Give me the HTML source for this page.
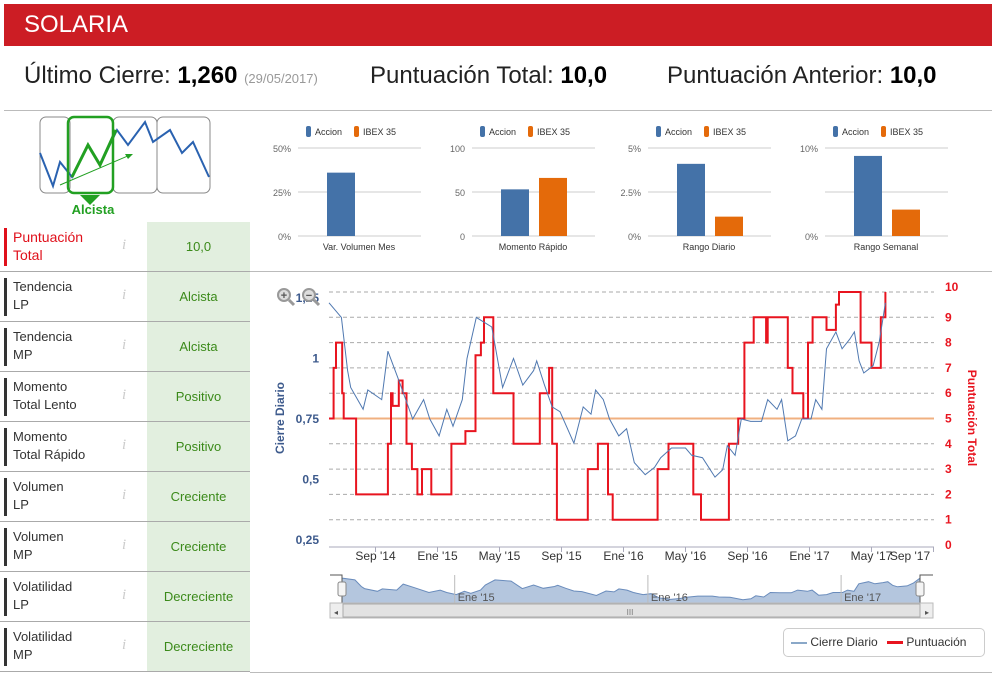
<!DOCTYPE html>
<html><head><meta charset="utf-8"><style>
body{margin:0;width:997px;height:676px;background:#fff;font-family:"Liberation Sans",sans-serif;position:relative;overflow:hidden}
.abs{position:absolute}
#hdr{left:4px;top:4px;width:988px;height:42px;background:#cc1d24;color:#fff;font-size:24px;line-height:42px;padding-left:20px;box-sizing:border-box}
.stat{top:62px;font-size:24px;color:#222}
.stat b{font-weight:bold;color:#000}
.row{left:0;width:250px;height:50px;border-bottom:1px solid #aaa;box-sizing:border-box}
.lab{position:absolute;left:4px;top:6px;height:38px;border-left:3px solid #333;padding-left:6px;font-size:13px;line-height:18px;color:#333;width:100px}
.info{position:absolute;left:122px;top:15px;color:#ccc;font-style:italic;font-family:"Liberation Serif",serif;font-size:15px}
.val{position:absolute;left:147px;top:0;width:103px;height:49px;background:#e2efdf;color:#3b8a1a;font-size:13px;text-align:center;line-height:49px}
</style></head><body>
<div id="hdr" class="abs">SOLARIA</div>
<div class="abs stat" style="left:24px">Último Cierre: <b>1,260</b> <span style="font-size:13px;color:#999">(29/05/2017)</span></div>
<div class="abs stat" style="left:370px">Puntuación Total: <b>10,0</b></div>
<div class="abs stat" style="left:667px">Puntuación Anterior: <b>10,0</b></div>
<div class="abs" style="left:4px;top:110px;width:988px;height:1px;background:#bbb"></div>
<div class="abs" style="left:250px;top:271px;width:742px;height:1px;background:#bbb"></div>
<div class="abs" style="left:250px;top:672px;width:742px;height:1px;background:#bbb"></div>

<svg class="abs" style="left:0;top:110px" width="250" height="112">
<rect x="40" y="7" width="30" height="76" rx="6" fill="none" stroke="#888"/>
<rect x="113" y="7" width="44" height="76" rx="6" fill="none" stroke="#888"/>
<rect x="157" y="7" width="53" height="76" rx="6" fill="none" stroke="#888"/>
<polyline points="40,43 53,76 60,52 72,67 88,35 100,55 117,20 128,35 145,12 153,32 170,20 182,43 193,32 209,67" fill="none" stroke="#2a62b0" stroke-width="2"/>
<rect x="68" y="7" width="45" height="76" rx="6" fill="none" stroke="#22a022" stroke-width="2.5"/>
<polyline points="72,67 88,35 100,55 116,20" fill="none" stroke="#22a022" stroke-width="3"/>
<line x1="60" y1="75" x2="130" y2="45" stroke="#22a022" stroke-width="1"/><polygon points="133,44 125,44 128,49" fill="#22a022"/>
<polygon points="80,85 100,85 90,95" fill="#22a022"/>
<text x="93" y="104" text-anchor="middle" font-size="13" font-weight="bold" fill="#22a022">Alcista</text>
</svg>

<div id="tbl"></div>
<svg id="bars" class="abs" style="left:250px;top:115px" width="742" height="145"></svg>
<svg id="main" class="abs" style="left:0;top:0" width="997" height="676"></svg>

<div class="abs" style="left:783px;top:628px;width:200px;height:27px;border:1px solid #ccc;border-radius:5px;font-size:12px;color:#333;line-height:27px">
<span style="margin-left:7px"><span style="display:inline-block;width:16px;height:2px;background:#8aa8c8;vertical-align:middle"></span> Cierre Diario</span>
<span style="margin-left:6px"><span style="display:inline-block;width:16px;height:3px;background:#e8141f;vertical-align:middle"></span> Puntuación</span>
</div>

<script>
var rowLabels=["Puntuación<br>Total","Tendencia<br>LP","Tendencia<br>MP","Momento<br>Total Lento","Momento<br>Total Rápido","Volumen<br>LP","Volumen<br>MP","Volatilidad<br>LP","Volatilidad<br>MP"];
var rowValues=["10,0","Alcista","Alcista","Positivo","Positivo","Creciente","Creciente","Decreciente","Decreciente"];
var barCats=["Var. Volumen Mes","Momento Rápido","Rango Diario","Rango Semanal"];
var barAccion=[36,53,4.1,9.1];
var barIbex=[null,66,1.1,3.0];
var barMax=[50,100,5,10];
var barTicks=[["0%","25%","50%"],["0","50","100"],["0%","2.5%","5%"],["0%","","10%"]];
var monthLabels=["Sep '14","Ene '15","May '15","Sep '15","Ene '16","May '16","Sep '16","Ene '17","May '17","Sep '17"];
var monthTicks=[3,7,11,15,19,23,27,31,35,39];
var priceT=[0,0.8,1.2,1.4,2.2,2.5,3.4,3.8,4.5,5.4,6.1,6.5,7.1,7.6,8.0,8.6,8.9,9.5,10.0,10.5,11.2,11.9,12.5,13.2,13.4,13.9,14.4,14.9,15.8,16.4,16.9,17.2,17.7,18.1,18.7,19.2,19.7,20.4,21.0,21.4,22.1,23.0,23.4,24.1,24.9,25.4,25.7,26.2,26.6,27.2,27.9,28.3,28.9,29.2,29.6,30.1,30.5,31.1,31.4,31.8,32.1,32.7,33.1,33.6,33.9,34.2,34.5,35.1,35.5,35.9];
var priceV=[1.23,1.17,0.95,0.88,0.79,0.87,0.83,1.03,0.91,0.75,0.83,0.75,0.68,0.79,0.72,0.83,1.0,1.17,1.15,1.13,0.88,1.0,0.89,0.95,0.99,0.89,0.8,0.78,0.65,0.8,0.77,0.87,0.83,0.75,0.68,0.71,0.57,0.52,0.55,0.59,0.63,0.63,0.6,0.59,0.51,0.54,0.64,0.6,0.75,0.74,0.74,0.83,0.79,0.83,0.66,0.68,0.75,0.75,0.83,0.79,1.04,1.11,1.04,1.08,1.11,0.99,0.94,0.97,1.07,1.23];
var scoreT=[0,0.3,0.45,0.85,0.95,1.75,3.8,4.0,4.1,4.5,4.75,5.0,5.35,5.7,6.0,6.6,7.9,8.8,9.45,9.8,10.0,10.6,11.9,13.6,14.2,14.4,14.7,16.7,17.35,18.0,18.3,21.2,21.9,23.5,24.0,25.8,26.4,26.8,27.4,28.2,28.3,29.6,29.9,30.6,30.9,31.2,32.1,32.7,32.9,34.3,35.0,35.6,35.9];
var scoreV=[5,7,8,6,5,2,4,6,5.5,6.5,6,4,3,2,3,2,4,4.5,7.5,8,9,6,4,6,7,4,1,3,4,2,1,3,4,2,1,4,5,8,9,8,9,7,6,5,8,9,8.5,9.5,10,8,7,9,10];
var leftTicks=["0,25","0,5","0,75","1","1,25"];
var rightTicks=["0","1","2","3","4","5","6","7","8","9","10"];
var NS="http://www.w3.org/2000/svg";
function mk(p,t,a,txt){var e=document.createElementNS(NS,t);for(var k in a)e.setAttribute(k,a[k]);if(txt!=null)e.textContent=txt;p.appendChild(e);return e;}

// table
var tbl=document.getElementById('tbl');
for(var i=0;i<rowLabels.length;i++){
 var r=document.createElement('div');r.className='abs row';r.style.top=(222+i*50)+'px';
 
 
 r.innerHTML='<div class="lab" style="'+(i==0?'border-color:#e0101b;color:#e0101b;font-size:14px':'')+'">'+rowLabels[i]+'</div><span class="info">i</span><div class="val">'+rowValues[i]+'</div>';
 var inf=r.querySelector('.info');
 
 
 tbl.appendChild(r);
}

// bar charts
var bs=document.getElementById('bars');
var gx=[48,222,398,575];
function drawBars(c){
 var x0=gx[c],w=123,gTop=33,gBot=121;
 function by(v){return gBot-(v/barMax[c])*(gBot-gTop);}
 for(var k=0;k<3;k++){var yy=gBot-k*(gBot-gTop)/2;
  mk(bs,'line',{x1:x0,x2:x0+w,y1:yy,y2:yy,stroke:'#ccc'});
  mk(bs,'text',{x:x0-7,y:yy+4,'text-anchor':'end','font-size':9,fill:'#666'},barTicks[c][k]);}
 var l=mk(bs,'g',{});
 
 
 mk(l,'rect',{x:x0+8,y:11,width:5,height:11,rx:2,fill:'#4472a8'});
 mk(l,'text',{x:x0+17,y:20,'font-size':9,fill:'#333'},'Accion');
 mk(l,'rect',{x:x0+56,y:11,width:5,height:11,rx:2,fill:'#e46a0a'});
 mk(l,'text',{x:x0+65,y:20,'font-size':9,fill:'#333'},'IBEX 35');
 var b1=mk(bs,'rect',{x:x0+29,y:by(barAccion[c]),width:28,height:gBot-by(barAccion[c]),fill:'#4472a8'});
 
 
 if(barIbex[c]!=null){var b2=mk(bs,'rect',{x:x0+67,y:by(barIbex[c]),width:28,height:gBot-by(barIbex[c]),fill:'#e46a0a'});
 
 }
 mk(bs,'text',{x:x0+61,y:135,'text-anchor':'middle','font-size':9,fill:'#333'},barCats[c]);
}
for(var c=0;c<4;c++)drawBars(c);

// main chart
var sv=document.getElementById('main');
var PL=329,PR=934;
function xm(t){return PL+t*15.5;}
function yp(p){return 540-(p-0.25)*242;}
function ys(s){return 545-s*25.3;}
for(var s=1;s<=10;s++){mk(sv,'line',{x1:PL,x2:PR,y1:ys(s),y2:ys(s),stroke:'#aaa','stroke-dasharray':'4,3'});}
mk(sv,'line',{x1:PL,x2:PR,y1:ys(0)+2,y2:ys(0)+2,stroke:'#aab'});
for(var i=0;i<rightTicks.length;i++){mk(sv,'text',{x:945,y:ys(i)+(i==10?-1:4),'font-size':12,fill:'#e8141f','font-weight':'bold'},rightTicks[i]);}
for(var i=0;i<leftTicks.length;i++){var v=0.25*(i+1);mk(sv,'text',{x:319,y:yp(v)+4,'text-anchor':'end','font-size':12,fill:'#3d5a8c','font-weight':'bold'},leftTicks[i]);}
for(var i=0;i<monthTicks.length;i++){var xx=xm(monthTicks[i]);mk(sv,'line',{x1:xx,x2:xx,y1:547,y2:552,stroke:'#aab'});
 var lx=Math.min(xx,PR-24);mk(sv,'text',{x:lx,y:560,'text-anchor':'middle','font-size':12,fill:'#333'},monthLabels[i]);}
var t1=mk(sv,'text',{x:284,y:418,'text-anchor':'middle','font-size':12,'font-weight':'bold',fill:'#3d5a8c',transform:'rotate(-90 284 418)'},'Cierre Diario');


var t2=mk(sv,'text',{x:968,y:418,'text-anchor':'middle','font-size':12,'font-weight':'bold',fill:'#e8141f',transform:'rotate(90 968 418)'},'Puntuación Total');


var th=mk(sv,'line',{x1:PL,x2:PR,y1:ys(5),y2:ys(5),stroke:'#f0b080','stroke-width':2});


var d='';for(var i=0;i<scoreT.length;i++){var x=xm(scoreT[i]),y=ys(scoreV[i]);d+=(i?' H'+x.toFixed(1)+' V'+y.toFixed(1):'M'+x.toFixed(1)+' '+y.toFixed(1));}
var sp=mk(sv,'path',{d:d,fill:'none',stroke:'#e8141f','stroke-width':2});


var pts=priceT.map(function(t,i){return xm(t).toFixed(1)+','+yp(priceV[i]).toFixed(1);}).join(' ');
var pl=mk(sv,'polyline',{points:pts,fill:'none',stroke:'#4f78b0','stroke-width':1});


['+','−'].forEach(function(s,i){var g=mk(sv,'g',{});
 
 
 mk(g,'circle',{cx:284+i*25,cy:295,r:6,fill:'#ddd',stroke:'#999','stroke-width':2});
 mk(g,'line',{x1:289+i*25,y1:300,x2:294+i*25,y2:305,stroke:'#999','stroke-width':3});
 mk(g,'text',{x:284+i*25,y:299,'text-anchor':'middle','font-size':11,'font-weight':'bold',fill:'#555'},s);});
var NL=342,NR=920;
function xn(t){return NL+t*(NR-NL)/35.9;}
function yn(p){return 603-(p-0.4)*30;}
var np='M'+NL+',603 '+priceT.map(function(t,i){return 'L'+xn(t).toFixed(1)+','+yn(priceV[i]).toFixed(1);}).join(' ')+' L'+NR+',603Z';
var na=mk(sv,'path',{d:np,fill:'#b4c6de',stroke:'#6a8cbc','stroke-width':1});


[7,19,31].forEach(function(t,i){var xx=xn(t);mk(sv,'line',{x1:xx,x2:xx,y1:575,y2:603,stroke:'#bbb'});mk(sv,'text',{x:xx+3,y:601,'font-size':11,fill:'#555'},["Ene '15","Ene '16","Ene '17"][i]);});
mk(sv,'path',{d:'M330,575 H342 V603 M920,603 V575 H933',fill:'none',stroke:'#555'});
[NL,NR].forEach(function(x){var h=mk(sv,'rect',{x:x-4,y:582,width:8,height:14,rx:2,fill:'#f4f4f4',stroke:'#888'});
 
 });
var sb=mk(sv,'rect',{x:330,y:603,width:603,height:15,fill:'#eee',stroke:'#bbb'});


mk(sv,'rect',{x:343,y:604,width:577,height:13,fill:'#e2e2e2',stroke:'#aaa'});
mk(sv,'text',{x:630,y:615,'font-size':8,fill:'#777','text-anchor':'middle'},'III');
mk(sv,'text',{x:336,y:615,'font-size':8,fill:'#555','text-anchor':'middle'},'◂');
mk(sv,'text',{x:927,y:615,'font-size':8,fill:'#555','text-anchor':'middle'},'▸');
</script>
</body></html>
